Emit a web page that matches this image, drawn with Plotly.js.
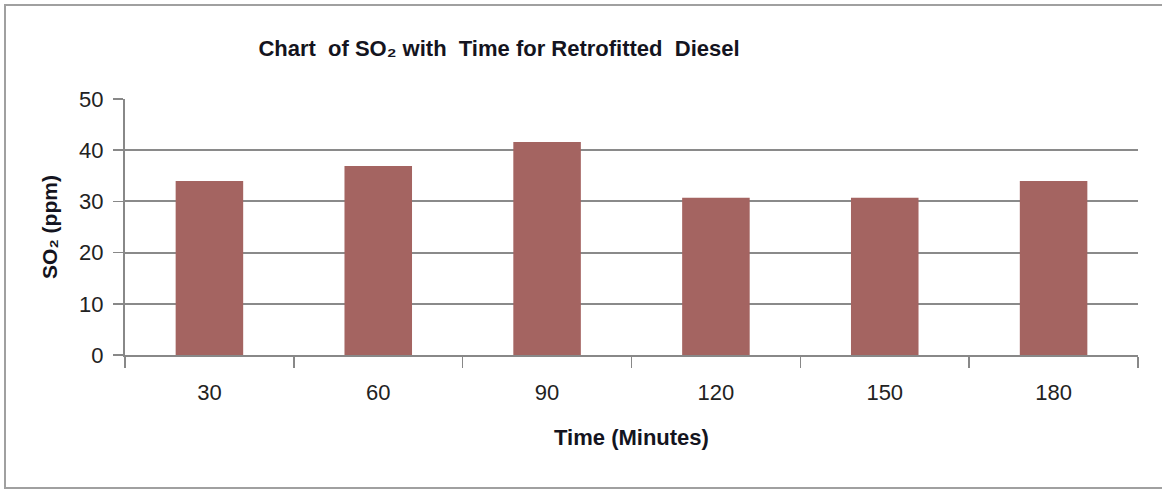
<!DOCTYPE html>
<html>
<head>
<meta charset="utf-8">
<script src="https://cdn.plot.ly/plotly-3.0.1.min.js"></script>
<style>
html,body{margin:0;padding:0;background:#fff;}
#chart{width:1162px;height:490px;}
</style>
</head>
<body>
<div id="chart"></div>
<script>
const categories = ['30', '60', '90', '120', '150', '180'];
const so2Values = [34, 36.9, 41.6, 30.7, 30.7, 34];
const yTicks = [0, 10, 20, 30, 40, 50];

const W = 1162, H = 490;
const L = 125, R = 24, T = 99, B = 135;
const pw = W - L - R, ph = H - T - B;
const px = v => (v - L) / pw;
const py = v => (H - B - v) / ph;

const font = "'Liberation Sans Narrow', 'Liberation Sans', Arial, sans-serif";

const trace = {
  type: 'bar',
  x: categories,
  y: so2Values,
  marker: {color: '#A46461', line: {width: 0}},
  hoverinfo: 'x+y'
};

const layout = {
  width: W, height: H,
  margin: {l: L, r: R, t: T, b: B, pad: 0},
  paper_bgcolor: '#ffffff',
  plot_bgcolor: '#ffffff',
  showlegend: false,
  bargap: 0.6,
  font: {family: font, size: 16, color: '#222'},
  title: {
    text: 'Chart  of SO₂ with  Time for Retrofitted  Diesel',
    font: {family: font, size: 22, color: '#141420', weight: 'bold'},
    x: px(499), xref: 'paper', xanchor: 'center',
    y: 1 - 48 / H, yref: 'container', yanchor: 'middle'
  },
  xaxis: {
    type: 'category',
    showgrid: false,
    showline: true, linecolor: '#888', linewidth: 2,
    ticks: 'outside', ticklen: 11, tickwidth: 1.5, tickcolor: '#888',
    tickson: 'boundaries',
    ticklabelstandoff: 17,
    tickfont: {family: font, size: 22, color: '#222'},
    title: {text: 'Time (Minutes)', font: {family: font, size: 22, color: '#141420', weight: 'bold'}, standoff: 25},
    fixedrange: true
  },
  yaxis: {
    range: [0, 50],
    tickvals: yTicks,
    ticktext: yTicks.map(String),
    showgrid: true, gridcolor: '#8a8a8a', gridwidth: 2,
    zeroline: false,
    showline: true, linecolor: '#888', linewidth: 2,
    ticks: 'outside', ticklen: 10, tickwidth: 1.5, tickcolor: '#888',
    ticklabelstandoff: 5,
    tickfont: {family: font, size: 22, color: '#222'},
    title: {text: 'SO₂ (ppm)', font: {family: font, size: 21, color: '#141420', weight: 'bold'}, standoff: 16},
    fixedrange: true
  },
  shapes: [{
    type: 'rect', xref: 'paper', yref: 'paper',
    x0: px(5), x1: px(1166), y0: py(488), y1: py(5),
    line: {color: '#a0a0a0', width: 2},
    fillcolor: 'rgba(0,0,0,0)', layer: 'below'
  }]
};

Plotly.newPlot('chart', [trace], layout, {displayModeBar: false, staticPlot: true});
</script>
</body>
</html>
